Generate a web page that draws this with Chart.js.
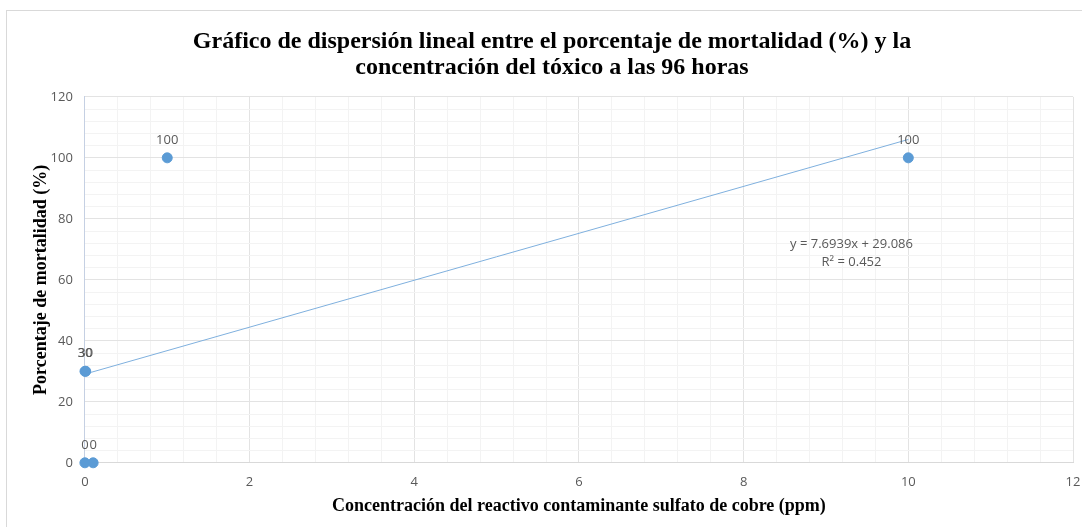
<!DOCTYPE html>
<html>
<head>
<meta charset="utf-8">
<script src="https://cdn.jsdelivr.net/npm/chart.js@4"></script>
<style>
  html, body { margin: 0; padding: 0; background: #fff; }
  #wrap { width: 1082px; height: 527px; }
</style>
</head>
<body>
<div id="wrap"><canvas id="chart"></canvas></div>
<script>
// data
var concentracion = [0, 0.1, 0.001, 0.01, 1, 10];
var mortalidad = [0, 0, 30, 30, 100, 100];
var etiquetas = ['0', '0', '30', '30', '100', '100'];
var ecuacion = ['y = 7.6939x + 29.086', 'R\u00b2 = 0.452'];

// least squares trend line
var n = concentracion.length, sx = 0, sy = 0, sxx = 0, sxy = 0;
for (var i = 0; i < n; i++) {
  sx += concentracion[i]; sy += mortalidad[i];
  sxx += concentracion[i] * concentracion[i];
  sxy += concentracion[i] * mortalidad[i];
}
var slope = (n * sxy - sx * sy) / (n * sxx - sx * sx);
var intercept = (sy - slope * sx) / n;
var xMin = Math.min.apply(null, concentracion), xMax = Math.max.apply(null, concentracion);

var puntos = concentracion.map(function(x, i) { return { x: x, y: mortalidad[i] }; });
var tendencia = [
  { x: xMin, y: slope * xMin + intercept },
  { x: xMax, y: slope * xMax + intercept }
];

function isMajor(v, step) {
  var r = v / step;
  return Math.abs(r - Math.round(r)) < 1e-6;
}

var extras = {
  id: 'extras',
  beforeDraw: function(chart) {
    var ctx = chart.ctx;
    ctx.save();
    ctx.strokeStyle = '#d9d9d9';
    ctx.lineWidth = 1;
    ctx.strokeRect(6.5, 10.5, 1200, 600);
    ctx.restore();
  },
  afterDatasetsDraw: function(chart) {
    var ctx = chart.ctx;
    var xs = chart.scales.x, ys = chart.scales.y;
    ctx.save();
    ctx.fillStyle = '#595959';
    ctx.font = '13px "Open Sans", "Liberation Sans", sans-serif';
    ctx.textAlign = 'center';
    ctx.textBaseline = 'middle';
    for (var i = 0; i < concentracion.length; i++) {
      var px = xs.getPixelForValue(concentracion[i]);
      var py = ys.getPixelForValue(mortalidad[i]);
      ctx.fillText(etiquetas[i], px, py - 18);
    }
    var ex = xs.getPixelForValue(9.31), ey = ys.getPixelForValue(71.7);
    ctx.fillText(ecuacion[0], ex, ey);
    ctx.fillText(ecuacion[1], ex, ey + 18);
    ctx.restore();
  }
};

var ctx = document.getElementById('chart').getContext('2d');
new Chart(ctx, {
  type: 'scatter',
  data: {
    datasets: [{
      label: 'Mortalidad',
      data: puntos,
      backgroundColor: '#5b9bd5',
      borderColor: '#5b9bd5',
      pointRadius: 5,
      pointHoverRadius: 5,
      clip: false,
      order: 1
    }, {
      label: 'Tendencia',
      type: 'line',
      data: tendencia,
      borderColor: '#7fb0de',
      borderWidth: 1,
      pointRadius: 0,
      fill: false,
      order: 2
    }]
  },
  options: {
    responsive: true,
    maintainAspectRatio: false,
    animation: false,
    layout: { padding: { left: 31, right: 9, top: 10, bottom: 10 } },
    plugins: {
      legend: { display: false },
      tooltip: { enabled: false },
      title: {
        display: true,
        text: ['Gr\u00e1fico de dispersi\u00f3n lineal entre el porcentaje de mortalidad (%) y la',
               'concentraci\u00f3n del t\u00f3xico a las 96 horas'],
        font: { family: '"Liberation Serif", "Times New Roman", serif', size: 24, weight: 'bold', lineHeight: 1.08 },
        color: '#000',
        padding: { top: 19, bottom: 16 }
      }
    },
    scales: {
      x: {
        type: 'linear',
        min: 0,
        max: 12,
        afterFit: function(scale) { scale.paddingRight = 0; },
        ticks: {
          stepSize: 0.4,
          autoSkip: false,
          maxRotation: 0,
          color: '#595959',
          font: { family: '"Open Sans", "Liberation Sans", sans-serif', size: 13 },
          padding: 12,
          callback: function(v) { return isMajor(v, 2) ? Math.round(v) : ''; }
        },
        grid: {
          color: function(c) { return isMajor(c.tick.value, 2) ? '#e3e3e3' : '#f3f3f3'; },
          drawTicks: false
        },
        border: { color: '#d9d9d9' },
        title: {
          display: true,
          text: 'Concentraci\u00f3n del reactivo contaminante sulfato de cobre (ppm)',
          font: { family: '"Liberation Serif", "Times New Roman", serif', size: 18, weight: 'bold' },
          color: '#000',
          padding: { top: -7, bottom: 0 }
        }
      },
      y: {
        min: 0,
        max: 120,
        ticks: {
          stepSize: 4,
          autoSkip: false,
          color: '#595959',
          font: { family: '"Open Sans", "Liberation Sans", sans-serif', size: 13 },
          padding: 12,
          callback: function(v) { return isMajor(v, 20) ? Math.round(v) : ''; }
        },
        grid: {
          color: function(c) { return isMajor(c.tick.value, 20) ? '#e3e3e3' : '#f3f3f3'; },
          drawTicks: false
        },
        border: { color: '#c5d0e3' },
        title: {
          display: true,
          text: 'Porcentaje de mortalidad (%)',
          font: { family: '"Liberation Serif", "Times New Roman", serif', size: 18, weight: 'bold' },
          color: '#000',
          padding: { top: 0, bottom: -14 }
        }
      }
    }
  },
  plugins: [extras]
});
</script>
</body>
</html>
